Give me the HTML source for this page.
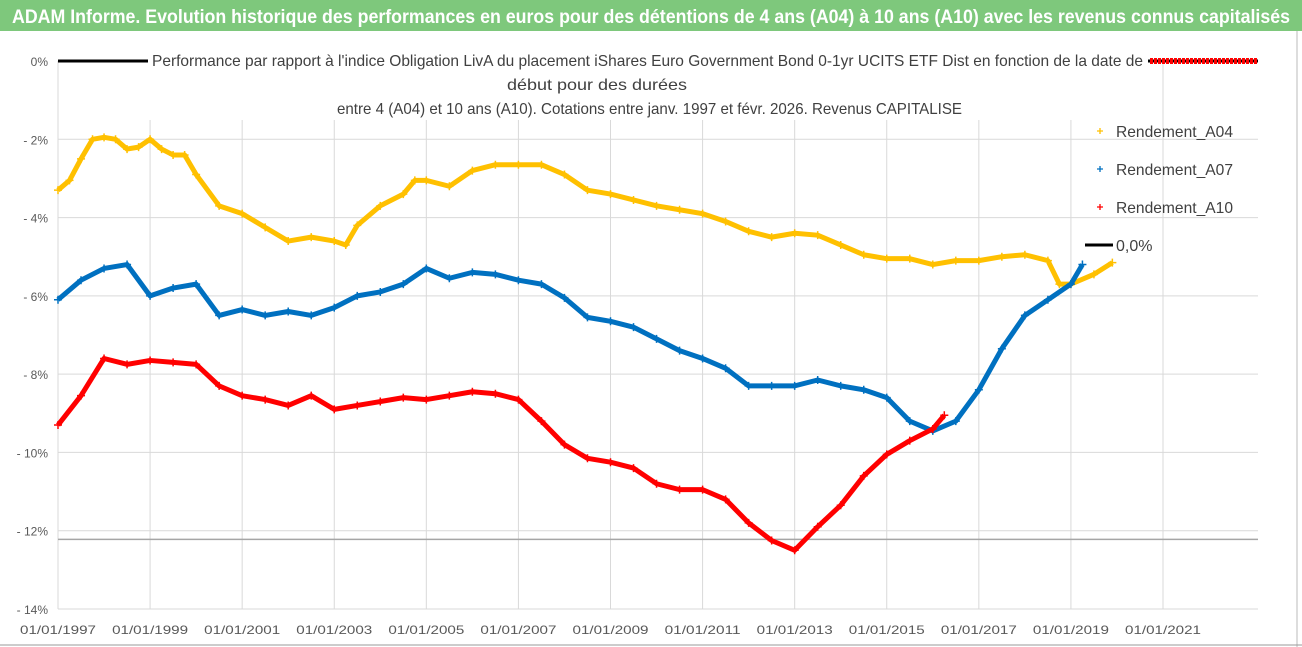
<!DOCTYPE html>
<html><head><meta charset="utf-8"><style>
body{margin:0;background:#fff;}
svg{display:block;font-family:"Liberation Sans",sans-serif;}
</style></head><body>
<svg id="chart" width="1302" height="647" viewBox="0 0 1302 647">
<rect x="0" y="0" width="1302" height="647" fill="#fff"/>
<rect x="0" y="0" width="1302" height="31" fill="#7ec87c"/>
<text x="12" y="23" fill="#fff" font-weight="bold" font-size="19" textLength="1278" lengthAdjust="spacingAndGlyphs">ADAM Informe. Evolution historique des performances en euros pour des détentions de 4 ans (A04) à 10 ans (A10) avec les revenus connus capitalisés</text>
<line x1="1297" y1="31" x2="1297" y2="647" stroke="#bbb"/>
<line x1="0" y1="645" x2="1302" y2="645" stroke="#999"/>
<g id="grid"></g>
<g id="series"></g>
<g id="titles"></g>
</svg>
<script>
const yTicks=[0,-2,-4,-6,-8,-10,-12,-14];
const yTickLabels=["0%","- 2%","- 4%","- 6%","- 8%","- 10%","- 12%","- 14%"];
const xTicks=[1997,1999,2001,2003,2005,2007,2009,2011,2013,2015,2017,2019,2021];
const xTickLabels=["01/01/1997","01/01/1999","01/01/2001","01/01/2003","01/01/2005","01/01/2007","01/01/2009","01/01/2011","01/01/2013","01/01/2015","01/01/2017","01/01/2019","01/01/2021"];
const a04Years=[1997,1997.25,1997.5,1997.75,1998,1998.25,1998.5,1998.75,1999,1999.25,1999.5,1999.75,2000,2000.5,2001,2001.5,2002,2002.5,2003,2003.25,2003.5,2004,2004.5,2004.75,2005,2005.5,2006,2006.5,2007,2007.5,2008,2008.5,2009,2009.5,2010,2010.5,2011,2011.5,2012,2012.5,2013,2013.5,2014,2014.5,2015,2015.5,2016,2016.5,2017,2017.5,2018,2018.5,2018.75,2019,2019.5,2019.9];
const a04Values=[-3.3,-3.05,-2.5,-2.0,-1.95,-2.0,-2.25,-2.2,-2.0,-2.25,-2.4,-2.4,-2.9,-3.7,-3.9,-4.25,-4.6,-4.5,-4.6,-4.7,-4.2,-3.7,-3.4,-3.05,-3.05,-3.2,-2.8,-2.65,-2.65,-2.65,-2.9,-3.3,-3.4,-3.55,-3.7,-3.8,-3.9,-4.1,-4.35,-4.5,-4.4,-4.45,-4.7,-4.95,-5.05,-5.05,-5.2,-5.1,-5.1,-5.0,-4.95,-5.1,-5.7,-5.7,-5.45,-5.15];
const a07Years=[1997,1997.5,1998,1998.5,1999,1999.5,2000,2000.5,2001,2001.5,2002,2002.5,2003,2003.5,2004,2004.5,2005,2005.5,2006,2006.5,2007,2007.5,2008,2008.5,2009,2009.5,2010,2010.5,2011,2011.5,2012,2012.5,2013,2013.5,2014,2014.5,2015,2015.5,2016,2016.5,2017,2017.5,2018,2018.5,2019,2019.25];
const a07Values=[-6.1,-5.6,-5.3,-5.2,-6.0,-5.8,-5.7,-6.5,-6.35,-6.5,-6.4,-6.5,-6.3,-6.0,-5.9,-5.7,-5.3,-5.55,-5.4,-5.45,-5.6,-5.7,-6.05,-6.55,-6.65,-6.8,-7.1,-7.4,-7.6,-7.85,-8.3,-8.3,-8.3,-8.15,-8.3,-8.4,-8.6,-9.2,-9.45,-9.2,-8.4,-7.35,-6.5,-6.1,-5.7,-5.2];
const a10Years=[1997,1997.5,1998,1998.5,1999,1999.5,2000,2000.5,2001,2001.5,2002,2002.5,2003,2003.5,2004,2004.5,2005,2005.5,2006,2006.5,2007,2007.5,2008,2008.5,2009,2009.5,2010,2010.5,2011,2011.5,2012,2012.5,2013,2013.5,2014,2014.5,2015,2015.5,2016,2016.25];
const a10Values=[-9.3,-8.55,-7.6,-7.75,-7.65,-7.7,-7.75,-8.3,-8.55,-8.65,-8.8,-8.55,-8.9,-8.8,-8.7,-8.6,-8.65,-8.55,-8.45,-8.5,-8.65,-9.2,-9.8,-10.15,-10.25,-10.4,-10.8,-10.95,-10.95,-11.2,-11.8,-12.25,-12.5,-11.9,-11.35,-10.6,-10.05,-9.7,-9.4,-9.05];

const NS='http://www.w3.org/2000/svg';
const X0=58,X1=1258,Y0=61,Y1=609;
function xs(y){return X0+(y-1997)*(1163-58)/24;}
function ys(v){return Y0+(0-v)*(Y1-Y0)/14;}
function mk(tag,attrs,parent){const e=document.createElementNS(NS,tag);for(const k in attrs)e.setAttribute(k,attrs[k]);parent.appendChild(e);return e;}
const grid=document.getElementById('grid'),ser=document.getElementById('series'),tit=document.getElementById('titles');
yTicks.forEach((t,i)=>{
  const l=mk('line',{x1:X0,x2:X1,y1:ys(t),y2:ys(t),stroke:'#d9d9d9'},grid);
  
  
  const tx=mk('text',{x:48,y:ys(t)+5,'text-anchor':'end','font-size':12,fill:'#595959'},grid);
  tx.textContent=yTickLabels[i];
  
  
});
xTicks.forEach((t,i)=>{
  const l=mk('line',{x1:xs(t),x2:xs(t),y1:Y0,y2:Y1,stroke:'#d9d9d9'},grid);
  
  
  const tx=mk('text',{x:xs(t),y:634,'text-anchor':'middle','font-size':12,fill:'#595959',textLength:76,lengthAdjust:'spacingAndGlyphs'},grid);
  tx.textContent=xTickLabels[i];
  
  
});
const ref=mk('line',{x1:X0,x2:X1,y1:ys(-12.22),y2:ys(-12.22),stroke:'#a6a6a6','stroke-width':1.5},grid);


const zero=mk('line',{x1:X0,x2:X1,y1:ys(0),y2:ys(0),stroke:'#000','stroke-width':3},grid);


const redEnd=mk('line',{x1:1150,x2:X1,y1:ys(0),y2:ys(0),stroke:'#f00','stroke-width':6,'stroke-dasharray':'3 1'},grid);



function drawSeries(years,vals,color,name){
  const g=mk('g',{},ser);
  
  
  const pts=years.map((y,i)=>xs(y)+','+ys(vals[i])).join(' ');
  const pl=mk('polyline',{points:pts,fill:'none',stroke:color,'stroke-width':5,'stroke-linejoin':'round'},g);
  
  
  years.forEach((y,i)=>{
    const x=xs(y),yy=ys(vals[i]);
    const p=mk('path',{d:`M${x-4},${yy}h8M${x},${yy-4}v8`,stroke:color,'stroke-width':1.5},g);
    
    
  });
}
drawSeries(a04Years,a04Values,'#ffc000','series-a04');
drawSeries(a07Years,a07Values,'#0070c0','series-a07');
drawSeries(a10Years,a10Values,'#ff0000','series-a10');

const tb=mk('rect',{x:148,y:48,width:1000,height:72,fill:'#fff'},tit);


const lines=[["Performance par rapport à l'indice Obligation LivA  du placement iShares Euro Government Bond 0-1yr UCITS ETF Dist en fonction de la date de",152,66,991],["début pour des durées",507,90,180],["entre 4 (A04) et 10 ans (A10).  Cotations entre janv. 1997 et févr. 2026. Revenus CAPITALISE",337,114,625]];
lines.forEach(l=>{
  const t=mk('text',{x:l[1],y:l[2],'font-size':16,fill:'#404040',textLength:l[3],lengthAdjust:'spacingAndGlyphs'},tit);
  t.textContent=l[0];
  
  
});
const leg=[["Rendement_A04",'#ffc000',131],["Rendement_A07",'#0070c0',169],["Rendement_A10",'#ff0000',207]];
leg.forEach(l=>{
  const g=mk('g',{},tit);
  
  
  mk('path',{d:`M${1097},${l[2]}h6M1100,${l[2]-3}v6`,stroke:l[1],'stroke-width':1.3},g);
  const t=mk('text',{x:1116,y:l[2]+6,'font-size':16,fill:'#404040',textLength:117,lengthAdjust:'spacingAndGlyphs'},g);
  t.textContent=l[0];
});
const g0=mk('g',{},tit);


mk('line',{x1:1085,x2:1113,y1:245,y2:245,stroke:'#000','stroke-width':3},g0);
const t0=mk('text',{x:1116,y:251,'font-size':16,fill:'#404040'},g0);
t0.textContent='0,0%';
</script>
</body></html>
